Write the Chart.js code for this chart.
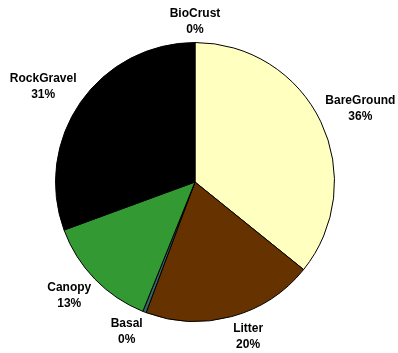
<!DOCTYPE html>
<html>
<head>
<meta charset="utf-8">
<script src="https://cdn.jsdelivr.net/npm/chart.js@4/dist/chart.umd.min.js"></script>
<style>
  html, body { margin: 0; padding: 0; background: #fff; }
  #wrap { width: 398px; height: 353px; }
</style>
</head>
<body>
<div id="wrap"><canvas id="coverChart" width="398" height="353"></canvas></div>
<script>
// ground cover categories, clockwise from the top
var categories = ['BioCrust', 'BareGround', 'Litter', 'Basal', 'Canopy', 'RockGravel'];
var coverPct = [0, 35.8, 19.9, 0.4, 13.3, 30.6];
var sliceColors = ['#FFFFFF', '#FFFFC0', '#663300', '#336666', '#339933', '#000000'];

// draws "Name / NN%" outside each slice; the text box sits off the rim,
// shifted by its own half-size so it never overlaps the pie
var outsideLabels = {
  id: 'outsideLabels',
  afterDatasetsDraw: function(chart) {
    var ctx = chart.ctx;
    var meta = chart.getDatasetMeta(0);
    ctx.save();
    ctx.font = 'bold 12px "Liberation Sans", Arial, sans-serif';
    ctx.fillStyle = '#000';
    ctx.textAlign = 'center';
    ctx.textBaseline = 'middle';
    meta.data.forEach(function(arc, i) {
      var p = arc.getProps(['x', 'y', 'startAngle', 'endAngle', 'outerRadius'], true);
      var mid = (p.startAngle + p.endAngle) / 2;
      var ux = Math.cos(mid), uy = Math.sin(mid);
      var name = categories[i];
      var pct = Math.round(coverPct[i]) + '%';
      var w = Math.max(ctx.measureText(name).width, ctx.measureText(pct).width) / 2;
      var h = 16;
      var r = p.outerRadius + 5;
      var sx = Math.max(-1, Math.min(1, ux * 4));
      var sy = (uy < 0 ? -1 : 1) * Math.sqrt(Math.abs(uy));
      var cx = p.x + ux * r + sx * w;
      var cy = p.y + uy * r + sy * h;
      ctx.fillText(name, cx, cy - 8);
      ctx.fillText(pct, cx, cy + 8);
    });
    ctx.restore();
  }
};

new Chart(document.getElementById('coverChart'), {
  type: 'pie',
  data: {
    labels: categories,
    datasets: [{
      data: coverPct,
      backgroundColor: sliceColors,
      borderColor: '#000',
      borderWidth: 1
    }]
  },
  options: {
    responsive: false,
    animation: false,
    layout: { padding: { left: 55, right: 63, top: 42, bottom: 31 } },
    plugins: {
      legend: { display: false },
      tooltip: { enabled: false }
    }
  },
  plugins: [outsideLabels]
});
</script>
</body>
</html>
